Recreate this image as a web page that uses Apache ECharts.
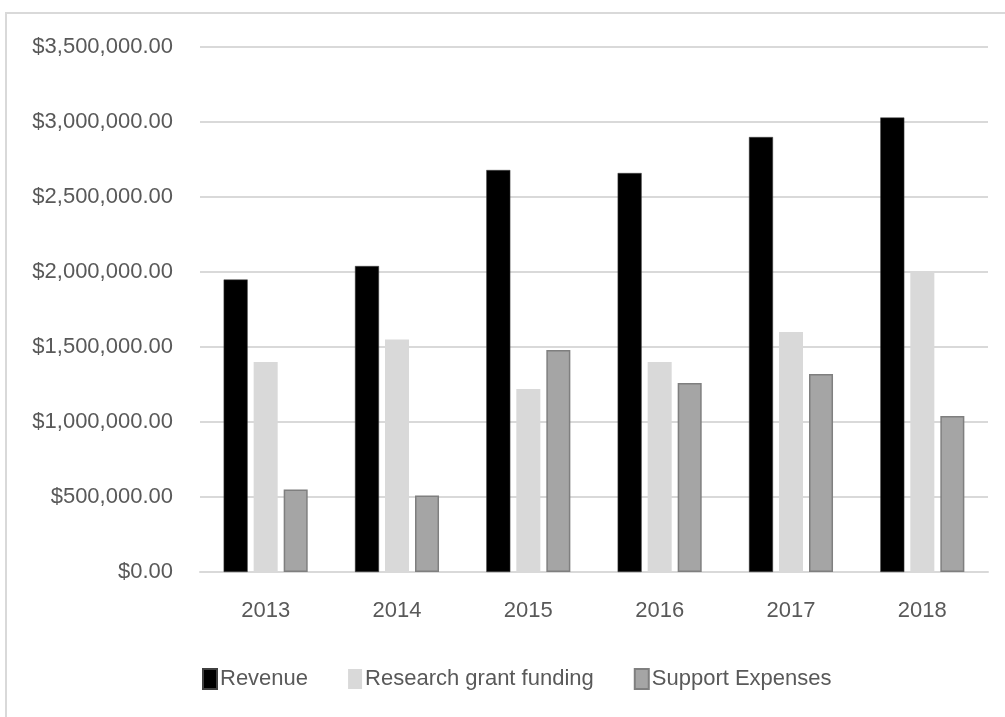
<!DOCTYPE html>
<html>
<head>
<meta charset="utf-8">
<style>
  html, body { margin: 0; padding: 0; background: #ffffff; }
  #chart { width: 1005px; height: 717px; }
</style>
<script src="https://cdn.jsdelivr.net/npm/echarts@6/dist/echarts.min.js"></script>
</head>
<body>
<div id="chart"></div>
<script>
// Yearly figures (USD)
const years = ['2013', '2014', '2015', '2016', '2017', '2018'];
const revenue = [1950000, 2040000, 2680000, 2660000, 2900000, 3030000];
const researchGrantFunding = [1400000, 1550000, 1220000, 1400000, 1600000, 2000000];
const supportExpenses = [550000, 510000, 1480000, 1260000, 1320000, 1040000];
const seriesNames = ['Revenue', 'Research grant funding', 'Support Expenses'];

const FONT = '"Liberation Sans", Arial, sans-serif';
const TEXT = '#595959';
const GRID = '#d9d9d9';

function money(v) {
  return '$' + v.toLocaleString('en-US', { minimumFractionDigits: 2, maximumFractionDigits: 2 });
}

const chart = echarts.init(document.getElementById('chart'), null, { renderer: 'canvas' });

chart.setOption({
  animation: false,
  backgroundColor: '#ffffff',
  textStyle: { fontFamily: FONT },
  graphic: [{
    type: 'rect',
    silent: true,
    shape: { x: 6, y: 13, width: 1100, height: 800 },
    style: { fill: 'none', stroke: GRID, lineWidth: 2 }
  }],
  grid: { left: 200, right: 17, top: 47, bottom: 145, containLabel: false },
  legend: {
    data: seriesNames,
    icon: 'rect',
    left: 197,
    top: 663,
    itemWidth: 14,
    itemHeight: 20,
    itemGap: 40,
    textStyle: { color: TEXT, fontSize: 22, fontFamily: FONT, padding: [0, 0, 0, -2] }
  },
  xAxis: {
    type: 'category',
    data: years,
    axisLine: { show: true, lineStyle: { color: GRID, width: 2 } },
    axisTick: { show: false },
    axisLabel: { color: TEXT, fontSize: 22, margin: 28, fontFamily: FONT }
  },
  yAxis: {
    type: 'value',
    min: 0,
    max: 3500000,
    interval: 500000,
    axisLine: { show: false },
    axisTick: { show: false },
    splitLine: { lineStyle: { color: GRID, width: 2 } },
    axisLabel: { color: TEXT, fontSize: 22, margin: 27, fontFamily: FONT, formatter: money }
  },
  series: [
    {
      name: seriesNames[0], type: 'bar', data: revenue,
      barCategoryGap: '36%', barGap: '25%',
      itemStyle: { color: '#000000', borderColor: '#404040', borderWidth: 0.5 }
    },
    {
      name: seriesNames[1], type: 'bar', data: researchGrantFunding,
      barCategoryGap: '36%', barGap: '25%',
      itemStyle: { color: '#d9d9d9' }
    },
    {
      name: seriesNames[2], type: 'bar', data: supportExpenses,
      barCategoryGap: '36%', barGap: '25%',
      itemStyle: { color: '#a5a5a5', borderColor: '#7f7f7f', borderWidth: 1.5 }
    }
  ]
});
</script>
</body>
</html>
